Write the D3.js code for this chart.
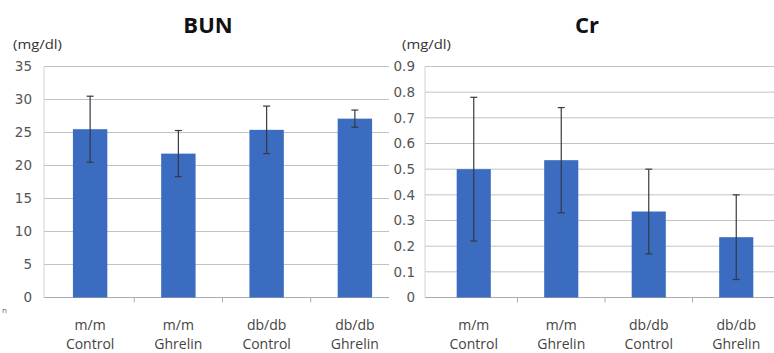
<!DOCTYPE html>
<html><head><meta charset="utf-8">
<script src="https://cdn.jsdelivr.net/npm/d3@7"></script>
<style>body{margin:0;background:#fff;} svg{display:block;}</style>
</head><body>
<svg id="c" width="774" height="353"></svg>
<script>
const categoriesLine1 = ["m/m", "m/m", "db/db", "db/db"];
const categoriesLine2 = ["Control", "Ghrelin", "Control", "Ghrelin"];
const bunValues = [25.5, 21.8, 25.4, 27.1];
const bunErrors = [5.0, 3.5, 3.6, 1.3];
const bunTicks = [0, 5, 10, 15, 20, 25, 30, 35];
const crValues = [0.50, 0.535, 0.335, 0.235];
const crErrors = [0.28, 0.205, 0.165, 0.165];
const crTicks = [0, 0.1, 0.2, 0.3, 0.4, 0.5, 0.6, 0.7, 0.8, 0.9];

const svg = d3.select("#c");
const barColor = "#3b6cc0";
const fontFam = "'Open Sans','DejaVu Sans',sans-serif";
const tickFont = "'DejaVu Sans',sans-serif";

function panel(opt){
  const g = svg.append("g");
  const x = d3.scaleBand().domain(d3.range(4)).range([opt.x0, opt.x1]).paddingInner(0.61).paddingOuter(0.305);
  const y = d3.scaleLinear().domain([0, opt.max]).range([297.5, 66.5]);
  g.selectAll("line.grid").data(opt.ticks.slice(1)).enter().append("line")
    .attr("x1", opt.gx0).attr("x2", opt.gx1)
    .attr("y1", d => y(d)).attr("y2", d => y(d))
    .attr("stroke", "#bfc3c6").attr("stroke-width", 1);
  g.append("line").attr("x1", opt.gx0).attr("x2", opt.gx0).attr("y1", y(opt.max)).attr("y2", y(0))
    .attr("stroke", "#d0d3d6");
  g.append("line").attr("x1", opt.gx0).attr("x2", opt.gx1).attr("y1", y(0)).attr("y2", y(0))
    .attr("stroke", "#a8acb0");
  const step = x.step();
  [1,2,3].forEach(i => {
    const xs = x(i) - step*x.paddingInner()/2;
    g.append("line").attr("x1", xs).attr("x2", xs).attr("y1", y(0)).attr("y2", y(0)+5).attr("stroke","#a8acb0");
  });
  g.selectAll("text.yt").data(opt.ticks).enter().append("text")
    .attr("x", opt.labelX).attr("y", d => y(d)).attr("dy", "0.36em")
    .attr("text-anchor", "end").attr("font-family", tickFont).attr("font-size", 13.5)
    .attr("fill", "#555").text(opt.fmt);
  g.selectAll("rect").data(opt.values).enter().append("rect")
    .attr("x", (d,i) => x(i)).attr("width", x.bandwidth())
    .attr("y", d => y(d)).attr("height", d => y(0) - y(d))
    .attr("fill", barColor);
  opt.values.forEach((v,i) => {
    const cx = x(i) + x.bandwidth()/2;
    const e = opt.errors[i];
    g.append("line").attr("x1", cx).attr("x2", cx).attr("y1", y(v+e)).attr("y2", y(v-e)).attr("stroke","#333a44").attr("stroke-width",1.2);
    [v+e, v-e].forEach(t => g.append("line").attr("x1", cx-3.5).attr("x2", cx+3.5).attr("y1", y(t)).attr("y2", y(t)).attr("stroke","#333a44").attr("stroke-width",1.2));
  });
  categoriesLine1.forEach((c,i) => {
    const cx = x(i) + x.bandwidth()/2;
    g.append("text").attr("x", cx).attr("y", 330).attr("text-anchor","middle")
      .attr("font-family", fontFam).attr("font-size", 14).attr("fill","#444").text(c);
    g.append("text").attr("x", cx).attr("y", 349).attr("text-anchor","middle")
      .attr("font-family", fontFam).attr("font-size", 14).attr("fill","#444").text(categoriesLine2[i]);
  });
  g.append("text").attr("x", opt.titleX).attr("y", 33).attr("text-anchor","middle")
    .attr("font-family", fontFam).attr("font-weight","bold").attr("font-size", 22).attr("fill","#111").text(opt.title);
  g.append("text").attr("x", opt.unitX).attr("y", 49)
    .attr("font-family", fontFam).attr("font-size", 12).attr("fill","#333")
    .attr("textLength", 49).attr("lengthAdjust", "spacingAndGlyphs").text("(mg/dl)");
}

panel({x0:46, x1:399, gx0:44, gx1:389, max:35, ticks:bunTicks, values:bunValues, errors:bunErrors,
  labelX:32, fmt: d => d, title:"BUN", titleX:208, unitX:13});
panel({x0:430, x1:780, gx0:425, gx1:774, max:0.9, ticks:crTicks, values:crValues, errors:crErrors,
  labelX:415, fmt: d => d === 0 ? "0" : d3.format(".1f")(d), title:"Cr", titleX:587, unitX:402});
svg.append("text").attr("x", 2).attr("y", 313).attr("font-family", fontFam).attr("font-size", 8).attr("fill", "#666").text("n");
</script>
</body></html>
